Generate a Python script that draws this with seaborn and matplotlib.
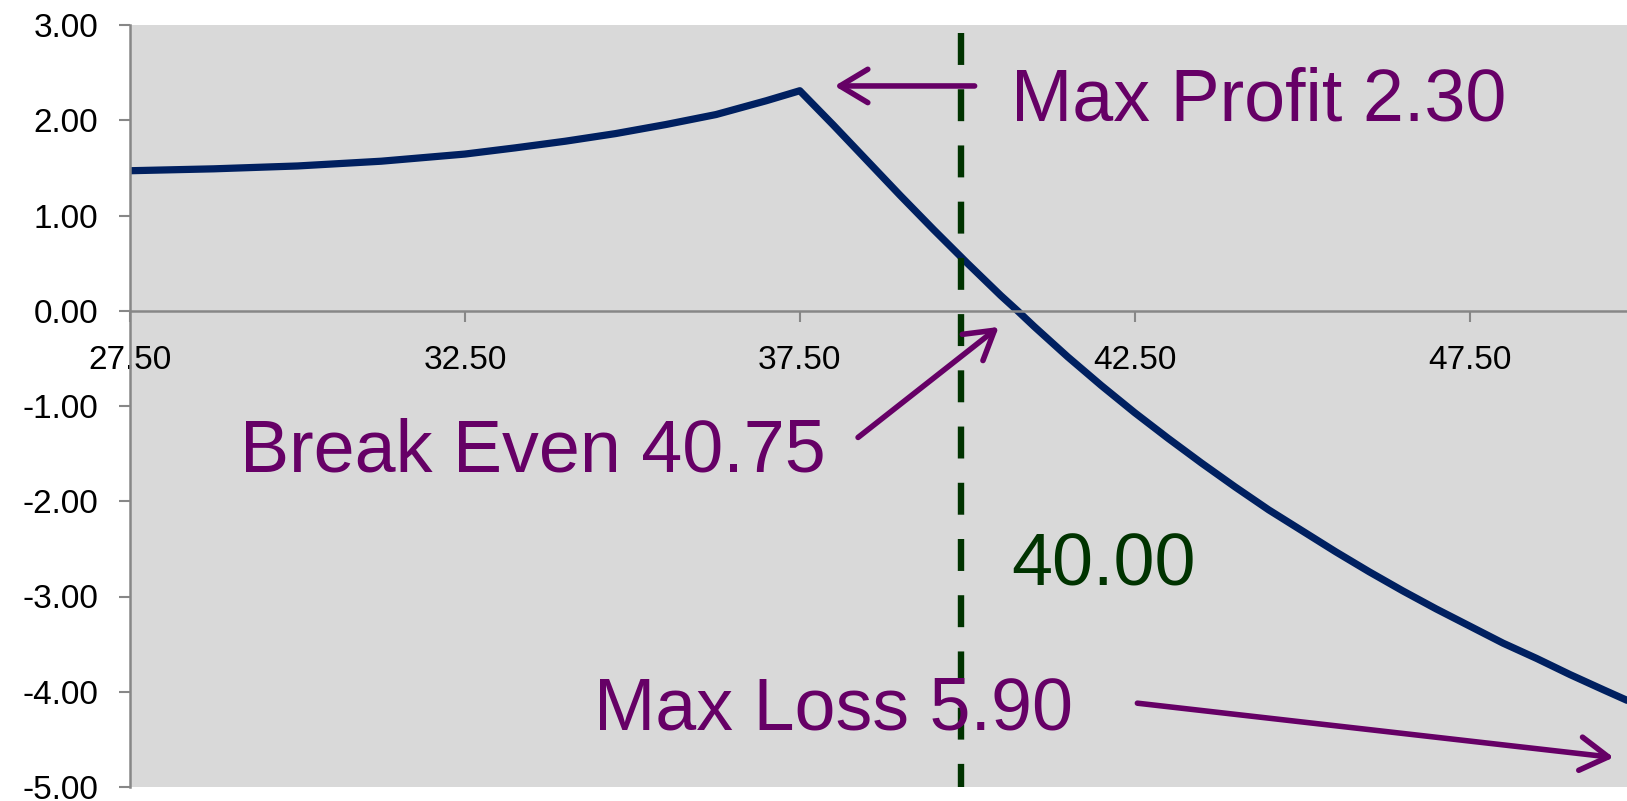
import matplotlib
matplotlib.use("Agg")
import matplotlib.pyplot as plt
import seaborn as sns

# --- du lieu doc tu hinh ---
price = [27.5, 28.75, 30.0, 31.25, 32.5, 33.25, 34.0, 34.75, 35.5, 36.25, 37.0, 37.5,
         38.0, 38.5, 39.0, 39.5, 40.0, 40.5, 40.75, 41.0, 41.5, 42.0, 42.5,
         43.0, 43.5, 44.0, 44.5, 45.0, 45.5, 46.0, 46.5, 47.0, 47.5,
         48.0, 48.5, 49.0, 49.5, 49.85]
pnl = [1.47, 1.49, 1.52, 1.57, 1.645, 1.71, 1.78, 1.86, 1.955, 2.06, 2.205, 2.31,
       1.95, 1.58, 1.21, 0.85, 0.50, 0.16, 0.00, -0.166, -0.484, -0.784, -1.07,
       -1.34, -1.60, -1.85, -2.09, -2.31, -2.53, -2.74, -2.94, -3.13, -3.31,
       -3.49, -3.65, -3.82, -3.98, -4.09]

strike = 39.9
strike_span = [2.92, -5.0]
x_ticks = [27.5, 32.5, 37.5, 42.5, 47.5]
y_ticks = [3, 2, 1, 0, -1, -2, -3, -4, -5]

navy = "#002060"
purple = "#660066"
dgreen = "#003300"
axis_gray = "#878787"

sns.set_style("white")
plt.rcParams["font.family"] = ["Liberation Sans", "DejaVu Sans"]

fig = plt.figure(figsize=(16.27, 8.01), dpi=100)
ax = fig.add_axes([130 / 1627, 14 / 801, 1497 / 1627, 762 / 801])
ax.set_facecolor("#D9D9D9")

# duong loi nhuan
sns.lineplot(x=price, y=pnl, color=navy, linewidth=5.2, ax=ax, sort=False)

# duong gia thuc hien (net dut)
ax.plot([strike, strike], strike_span, color=dgreen, linewidth=4.6,
        linestyle=(0, (5.0, 3.8)), solid_capstyle="butt")

ax.set_xlim(27.5, 49.85)
ax.set_ylim(-5, 3)
ax.set_xticks(x_ticks)
ax.set_xticklabels([f"{v:.2f}" for v in x_ticks])
ax.set_yticks(y_ticks)
ax.set_yticklabels([f"{v:.2f}" for v in y_ticks])

for s in ["top", "right"]:
    ax.spines[s].set_visible(False)
ax.spines["bottom"].set_position(("data", 0))
ax.spines["bottom"].set_color(axis_gray)
ax.spines["left"].set_color(axis_gray)
ax.spines["bottom"].set_linewidth(1.8)
ax.spines["left"].set_linewidth(1.8)
ax.tick_params(axis="y", direction="out", length=8, width=1.5, color=axis_gray,
               labelsize=24, pad=15, left=True, labelcolor="black")
ax.tick_params(axis="x", direction="out", length=8, width=1.5, color=axis_gray,
               labelsize=24, pad=17, bottom=True, labelcolor="black")
ax.set_xlabel("")
ax.set_ylabel("")

# chu thich
big = 53
ax.text(40.65, 2.0, "Max Profit 2.30", color=purple, fontsize=big, va="baseline")
ax.text(29.14, -1.69, "Break Even 40.75", color=purple, fontsize=big, va="baseline")
ax.text(34.43, -4.40, "Max Loss 5.90", color=purple, fontsize=big, va="baseline")
ax.text(40.65, -2.88, "40.00", color=dgreen, fontsize=big, va="baseline")

arrow = dict(arrowstyle="->,head_length=1.0,head_width=0.6", color=purple,
             lw=4.0, mutation_scale=20, shrinkA=0, shrinkB=0)
ax.annotate("", xy=(38.02, 2.36), xytext=(40.11, 2.36), arrowprops=arrow)
ax.annotate("", xy=(40.47, -0.17), xytext=(38.37, -1.33), arrowprops=arrow)
ax.annotate("", xy=(49.65, -4.69), xytext=(42.54, -4.12), arrowprops=arrow)

fig.savefig("out.png", dpi=100)
